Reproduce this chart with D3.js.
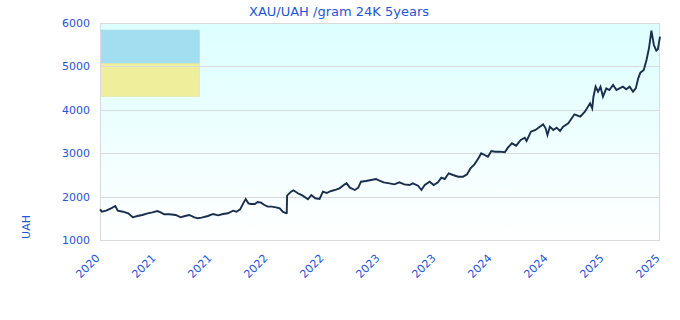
<!DOCTYPE html>
<meta charset="utf-8">
<script src="https://d3js.org/d3.v7.min.js"></script>
<style>
  body { margin: 0; background: #fff; font-family: "DejaVu Sans", Verdana, sans-serif; }
</style>
<div id="chart"></div>
<script>

// price of 1 gram of 24K gold in UAH
var dates = [
  "2020-11-01","2020-11-07","2020-11-21","2020-12-07","2020-12-21","2020-12-29","2021-01-15","2021-02-01",
  "2021-02-16","2021-03-03","2021-03-19","2021-04-05","2021-04-21","2021-05-07","2021-05-18","2021-05-29",
  "2021-06-15","2021-07-06","2021-07-22","2021-08-05","2021-08-19","2021-09-05","2021-09-16","2021-09-28",
  "2021-10-19","2021-11-05","2021-11-21","2021-12-07","2021-12-23","2022-01-09","2022-01-20","2022-02-01",
  "2022-02-11","2022-02-19","2022-02-28","2022-03-08","2022-03-21","2022-03-30","2022-04-10","2022-04-21",
  "2022-05-02","2022-05-15","2022-05-29","2022-06-10","2022-06-20","2022-07-01","2022-07-03","2022-07-04",
  "2022-07-17","2022-07-25","2022-08-08","2022-08-24","2022-09-10","2022-09-21","2022-10-04","2022-10-18",
  "2022-10-29","2022-11-10","2022-11-25","2022-12-11","2022-12-22","2023-01-08","2023-01-14","2023-01-25",
  "2023-02-10","2023-02-21","2023-03-02","2023-03-18","2023-04-04","2023-04-20","2023-05-01","2023-05-15",
  "2023-06-03","2023-06-19","2023-07-05","2023-07-21","2023-08-07","2023-08-18","2023-09-04","2023-09-15",
  "2023-09-26","2023-10-12","2023-10-25","2023-11-08","2023-11-19","2023-11-30","2023-12-13","2023-12-27",
  "2024-01-13","2024-01-29","2024-02-11","2024-02-22","2024-03-06","2024-03-20","2024-03-28","2024-04-08",
  "2024-04-19","2024-04-30","2024-05-13","2024-05-27","2024-06-13","2024-06-23","2024-07-06","2024-07-20",
  "2024-08-04","2024-08-17","2024-08-23","2024-09-06","2024-09-21","2024-10-05","2024-10-16","2024-10-24",
  "2024-10-30","2024-11-07","2024-11-18","2024-11-29","2024-12-10","2024-12-20","2025-01-06","2025-01-26",
  "2025-02-14","2025-03-01","2025-03-10","2025-03-18","2025-03-25","2025-03-29","2025-04-05","2025-04-13",
  "2025-04-21","2025-04-29","2025-05-10","2025-05-20","2025-06-01","2025-06-12","2025-06-22","2025-07-03",
  "2025-07-14","2025-07-25","2025-08-05","2025-08-14","2025-08-22","2025-08-29","2025-09-09","2025-09-18",
  "2025-09-26","2025-10-04","2025-10-12","2025-10-20","2025-10-25","2025-11-01"
];
var prices = [
  1707,1652,1675,1730,1783,1675,1652,1615,
  1523,1553,1576,1615,1638,1668,1638,1592,
  1592,1576,1523,1553,1576,1523,1500,1514,
  1553,1600,1569,1600,1615,1675,1652,1707,
  1845,1945,1845,1829,1829,1876,1860,1806,
  1768,1768,1753,1730,1652,1615,1620,2021,
  2113,2145,2076,2021,1938,2037,1961,1945,
  2113,2083,2129,2159,2191,2283,2306,2205,
  2152,2205,2343,2359,2382,2406,2366,2329,
  2306,2283,2329,2283,2267,2306,2251,2152,
  2267,2343,2267,2329,2435,2406,2537,2498,
  2459,2459,2513,2652,2744,2896,2998,2959,
  2920,3051,3035,3035,3021,3127,3228,3173,
  3304,3357,3281,3495,3535,3611,3666,3574,
  3419,3611,3535,3588,3511,3611,3689,3896,
  3841,3956,4058,4150,4035,4302,4532,4417,
  4532,4302,4494,4456,4571,4456,4494,4532,
  4472,4532,4417,4494,4726,4855,4917,5147,
  5417,5825,5493,5362,5394,5684
];
var yTicks = [1000, 2000, 3000, 4000, 5000, 6000];
var xRange = ["2020-11-01", "2025-11-01"];

var parse = d3.timeParse("%Y-%m-%d");
var data = dates.map(function(d, i) { return {date: parse(d), value: prices[i]}; });

var margin = {top: 23, right: 20, bottom: 80, left: 100},
    width = 680 - margin.left - margin.right,
    height = 320 - margin.top - margin.bottom;

var blue = "#1f55d6";

var svg = d3.select("#chart")
  .append("svg")
    .attr("width", 680)
    .attr("height", 320);

var defs = svg.append("defs");
var grad = defs.append("linearGradient")
    .attr("id", "bg")
    .attr("x1", 0).attr("y1", 0).attr("x2", 0).attr("y2", 1);
grad.append("stop").attr("offset", "0%").attr("stop-color", "#dcffff");
grad.append("stop").attr("offset", "100%").attr("stop-color", "#ffffff");

// title
svg.append("text")
  .attr("x", 339)
  .attr("y", 16)
  .attr("text-anchor", "middle")
  .style("font-size", "13px")
  .style("fill", blue)
  .text("XAU/UAH /gram 24K 5years");

// y axis title
svg.append("text")
  .attr("transform", "translate(30,227) rotate(-90)")
  .attr("text-anchor", "middle")
  .style("font-size", "11px")
  .style("fill", blue)
  .text("UAH");

var g = svg.append("g")
    .attr("transform", "translate(" + margin.left + "," + margin.top + ")");

var x = d3.scaleTime()
  .domain(xRange.map(parse))
  .range([0, width]);

var y = d3.scaleLinear()
  .domain([1000, 6000])
  .range([height, 0]);

// background
g.append("rect")
  .attr("width", width)
  .attr("height", height)
  .attr("fill", "url(#bg)");

// ukrainian flag
g.append("rect")
  .attr("x", 0.5).attr("y", 7)
  .attr("width", 99).attr("height", 33.5)
  .attr("fill", "#a1dff0").attr("stroke", "#b3dde6").attr("stroke-width", 0.6);
g.append("rect")
  .attr("x", 0.5).attr("y", 40.5)
  .attr("width", 99).attr("height", 33)
  .attr("fill", "#eeee9b").attr("stroke", "#e3e3a6").attr("stroke-width", 0.6);

// gridlines
g.selectAll(".grid")
  .data(yTicks)
  .enter()
  .append("line")
    .attr("x1", 0)
    .attr("x2", width)
    .attr("y1", function(d) { return Math.round(y(d)) + 0.5; })
    .attr("y2", function(d) { return Math.round(y(d)) + 0.5; })
    .attr("stroke", "#d9d9d9");

g.append("rect")
  .attr("x", 0.5).attr("y", 0.5)
  .attr("width", width - 1).attr("height", height)
  .attr("fill", "none")
  .attr("stroke", "#d9d9d9");

// Y axis
var yAxis = g.append("g")
  .call(d3.axisLeft(y).tickValues(yTicks).tickFormat(d3.format("d")).tickSize(0).tickPadding(10));
yAxis.select(".domain").remove();
yAxis.selectAll("text")
  .style("font-size", "11px")
  .style("font-family", "DejaVu Sans, sans-serif")
  .style("fill", blue);

// X axis
var xTicks = d3.range(11).map(function(i) {
  var d = x.domain();
  return new Date(+d[0] + (d[1] - d[0]) * i / 10);
});
var xAxis = g.append("g")
  .attr("transform", "translate(0," + height + ")")
  .call(d3.axisBottom(x).tickValues(xTicks).tickFormat(d3.timeFormat("%Y")).tickSize(0));
xAxis.select(".domain").remove();
xAxis.selectAll("text")
  .attr("transform", "translate(-5,14) rotate(-45)")
  .attr("dy", "0.35em")
  .style("text-anchor", "end")
  .style("font-size", "11px")
  .style("font-family", "DejaVu Sans, sans-serif")
  .style("fill", blue);

// the price line
g.append("path")
  .datum(data)
  .attr("fill", "none")
  .attr("stroke", "#192d4c")
  .attr("stroke-width", 1.9)
  .attr("d", d3.line()
    .x(function(d) { return x(d.date); })
    .y(function(d) { return y(d.value); }));

</script>
